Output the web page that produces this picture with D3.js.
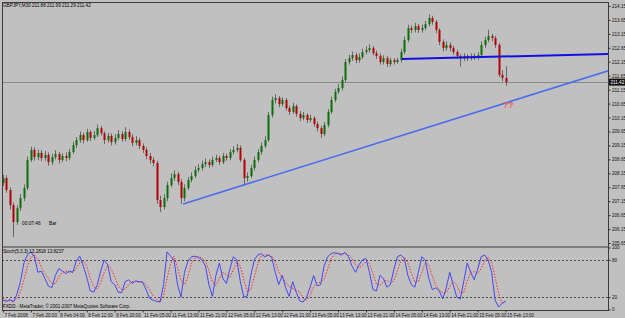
<!DOCTYPE html>
<html><head><meta charset="utf-8">
<script src="https://cdn.jsdelivr.net/npm/d3@7"></script>
<style>html,body{margin:0;padding:0;background:#c0c0c0;overflow:hidden}svg{display:block}text{font-family:"Liberation Sans",Arial,sans-serif}</style>
</head><body>
<svg id="c" width="625" height="318"></svg>
<script>
const openP=[207.80,207.98,207.55,207.01,206.40,206.90,207.26,207.62,208.63,208.99,
208.73,208.88,208.70,208.81,208.55,208.73,208.84,208.63,208.77,208.70,
208.91,209.16,209.34,209.52,209.34,209.63,209.42,209.52,209.77,209.59,
209.34,209.49,209.27,209.42,209.56,209.38,209.63,209.45,209.24,209.34,
209.13,208.99,208.77,208.63,208.52,207.19,206.94,207.26,207.73,207.98,
208.12,207.84,207.26,207.62,207.91,208.05,208.27,208.34,208.48,208.55,
208.45,208.63,208.70,208.55,208.77,208.70,208.91,208.99,209.06,208.63,
207.98,208.05,208.34,208.63,208.91,209.13,209.34,210.24,210.78,210.85,
210.63,210.78,210.49,210.35,210.56,210.28,210.13,210.24,210.06,210.13,
209.92,209.77,209.56,209.88,210.35,210.78,211.07,211.21,211.50,212.14,
212.28,212.39,212.21,212.32,212.50,212.57,212.64,212.46,212.36,212.14,
212.28,212.07,212.21,212.14,212.21,212.50,212.93,213.36,213.29,213.43,
213.29,213.36,213.50,213.72,213.58,213.29,212.86,212.64,212.75,212.64,
212.50,212.36,212.28,212.36,212.28,212.36,212.32,212.39,212.75,212.93,
213.07,213.00,212.75,211.68,211.57];
const closeP=[207.98,207.55,207.01,206.40,206.90,207.26,207.62,208.63,208.99,208.73,
208.88,208.70,208.81,208.55,208.73,208.84,208.63,208.77,208.70,208.91,
209.16,209.34,209.52,209.34,209.63,209.42,209.52,209.77,209.59,209.34,
209.49,209.27,209.42,209.56,209.38,209.63,209.45,209.24,209.34,209.13,
208.99,208.77,208.63,208.52,207.19,206.94,207.26,207.73,207.98,208.12,
207.84,207.26,207.62,207.91,208.05,208.27,208.34,208.48,208.55,208.45,
208.63,208.70,208.55,208.77,208.70,208.91,208.99,209.06,208.63,207.98,
208.05,208.34,208.63,208.91,209.13,209.34,210.24,210.78,210.85,210.63,
210.78,210.49,210.35,210.56,210.28,210.13,210.24,210.06,210.13,209.92,
209.77,209.56,209.88,210.35,210.78,211.07,211.21,211.50,212.14,212.28,
212.39,212.21,212.32,212.50,212.57,212.64,212.46,212.36,212.14,212.28,
212.07,212.21,212.14,212.21,212.50,212.93,213.36,213.29,213.43,213.29,
213.36,213.50,213.72,213.58,213.29,212.86,212.64,212.75,212.64,212.50,
212.36,212.28,212.36,212.28,212.36,212.32,212.39,212.75,212.93,213.07,
213.00,212.75,211.68,211.57,211.42];
const highP=[208.10,208.08,207.65,207.10,207.00,207.40,207.75,208.75,209.10,209.08,
209.00,208.98,208.95,208.90,208.85,208.98,208.92,208.88,208.90,209.02,
209.28,209.45,209.65,209.60,209.75,209.70,209.66,209.90,209.85,209.65,
209.60,209.58,209.55,209.70,209.66,209.80,209.72,209.55,209.48,209.42,
209.22,209.08,208.88,208.72,208.60,207.35,207.40,207.85,208.15,208.25,
208.20,207.95,207.75,208.02,208.18,208.40,208.48,208.60,208.68,208.65,
208.75,208.82,208.78,208.88,208.85,209.02,209.12,209.20,209.15,208.70,
208.18,208.45,208.75,209.02,209.25,209.48,210.35,210.90,210.98,210.92,
210.88,210.85,210.58,210.68,210.62,210.38,210.35,210.30,210.25,210.20,
210.00,209.85,209.98,210.45,210.90,211.18,211.35,211.62,212.25,212.40,
212.52,212.48,212.45,212.62,212.70,212.78,212.72,212.55,212.45,212.38,
212.35,212.30,212.28,212.30,212.62,213.05,213.48,213.45,213.55,213.50,
213.48,213.62,213.85,213.80,213.65,213.35,212.95,212.88,212.85,212.72,
212.58,212.42,212.45,212.42,212.45,212.45,212.50,212.88,213.05,213.30,
213.15,213.08,212.82,211.85,211.99];
const lowP=[207.70,207.45,206.85,205.86,206.30,206.80,207.15,207.55,208.55,208.60,
208.62,208.58,208.60,208.42,208.45,208.65,208.50,208.55,208.58,208.62,
208.85,209.05,209.25,209.22,209.28,209.30,209.35,209.45,209.50,209.20,
209.25,209.15,209.18,209.35,209.28,209.30,209.35,209.12,209.15,209.02,
208.88,208.65,208.50,208.40,207.05,206.76,206.85,207.15,207.65,207.88,
207.72,207.05,207.15,207.55,207.82,207.98,208.18,208.25,208.38,208.35,
208.38,208.55,208.45,208.48,208.60,208.62,208.82,208.90,208.55,207.70,
207.85,207.98,208.25,208.55,208.82,209.05,209.28,210.15,210.65,210.52,
210.55,210.40,210.25,210.28,210.18,210.02,210.05,209.95,209.98,209.82,
209.65,209.42,209.48,209.80,210.28,210.70,211.00,211.12,211.42,212.05,
212.18,212.10,212.12,212.25,212.42,212.48,212.38,212.25,212.05,212.05,
211.96,211.98,212.05,212.08,212.12,212.42,212.85,213.18,213.20,213.18,
213.20,213.28,213.42,213.48,213.18,212.75,212.52,212.55,212.52,212.40,
212.25,211.98,212.18,212.18,212.20,212.22,212.22,212.30,212.65,212.85,
212.88,212.65,211.60,211.45,211.29];
const stochK=[15,13,16,12,25,45,75,88,93,85,
60,62,50,38,35,55,66,62,58,62,
60,78,86,70,52,30,28,40,62,80,
72,45,40,28,27,45,48,42,46,45,
44,32,18,15,13,12,40,93,86,80,
40,20,60,78,85,86,84,80,70,40,
21,55,75,50,42,65,85,80,45,20,
22,55,80,88,90,85,88,84,60,40,
55,35,21,45,28,14,12,20,36,55,
38,40,70,85,90,92,90,88,92,85,
70,60,72,80,82,60,32,30,55,50,
36,40,65,85,88,82,55,40,36,60,
85,80,50,32,35,30,17,35,60,40,
20,17,45,75,60,48,65,85,88,80,
60,15,4,10,13.28];
const stochD=[18,15,14,14,18,28,48,70,85,88,
80,68,58,50,42,42,52,60,62,60,
60,66,75,78,70,50,37,33,44,60,
71,66,52,38,32,33,40,45,45,44,
45,40,32,22,16,13,22,50,73,86,
68,47,40,53,74,83,85,83,78,63,
44,39,50,60,56,52,64,77,70,48,
29,32,52,74,86,88,88,86,77,61,
52,44,37,34,31,29,18,15,23,37,
43,44,49,65,82,89,91,90,90,88,
82,72,67,71,78,74,58,41,39,45,
47,42,47,63,79,85,75,59,44,45,
60,75,72,54,39,32,27,27,37,45,
40,26,27,46,60,61,58,66,79,84,
76,52,26,10,13.82];
const priceTicks=[214.15,213.65,213.15,212.65,212.15,211.65,211.15,210.65,210.15,209.65,209.15,208.65,208.15,207.65,207.15,206.65,206.15,205.65];
const timeTickIdx=[0,8,16,24,32,40,48,56,64,72,80,88,96,104,112,120,128,136,144];
const timeLabels=["7 Feb 2008","7 Feb 20:00","8 Feb 04:00","8 Feb 12:00","8 Feb 20:00","11 Feb 05:00","11 Feb 13:00","11 Feb 21:00","12 Feb 05:00","12 Feb 13:00","12 Feb 21:00","13 Feb 05:00","13 Feb 13:00","13 Feb 21:00","14 Feb 05:00","14 Feb 13:00","14 Feb 21:00","15 Feb 05:00","15 Feb 13:00"];
const stochLevels=[80,20];
const stochTicks=[100,80,20,0];
const resistLine=[{i:114.3,p:212.25},{i:174,p:212.43}];
const supportLine=[{i:51.6,p:207.05},{i:174,p:211.85}];
const lastPrice=211.42;

const svg=d3.select("#c");
const L=2,R=608,T=2,SEP=246.5,B=310;
svg.append("rect").attr("width",625).attr("height",318).attr("fill","#c0c0c0");

const x=d3.scaleLinear().domain([0,144]).range([3,505.6]);
const y=d3.scaleLinear().domain([205.65,214.15]).range([243,6]);
const ys=d3.scaleLinear().domain([0,100]).range([309.5,247.5]);

const defs=svg.append("defs");
defs.append("clipPath").attr("id","mainClip").append("rect").attr("x",L).attr("y",T).attr("width",R-L).attr("height",SEP-T);
defs.append("clipPath").attr("id","subClip").append("rect").attr("x",L).attr("y",SEP).attr("width",R-L).attr("height",B-SEP);

const main=svg.append("g").attr("clip-path","url(#mainClip)");
main.append("line").attr("x1",L).attr("x2",R).attr("y1",Math.round(y(lastPrice))+0.5).attr("y2",Math.round(y(lastPrice))+0.5).attr("stroke","#8a8a8a").attr("stroke-width",1);

const idx=d3.range(closeP.length);
const px=i=>Math.round(x(i))+0.5;
main.append("g").selectAll("line").data(idx).join("line")
 .attr("x1",px).attr("x2",px).attr("y1",i=>y(highP[i])).attr("y2",i=>y(lowP[i]))
 .attr("stroke","#666").attr("stroke-width",1);
main.append("g").selectAll("rect").data(idx).join("rect")
 .attr("x",i=>Math.round(x(i))-0.5).attr("width",2)
 .attr("y",i=>y(Math.max(openP[i],closeP[i])))
 .attr("height",i=>Math.max(1,Math.abs(y(openP[i])-y(closeP[i]))))
 .attr("fill",i=>closeP[i]>=openP[i]?"#0a6e0a":"#b40000");

const ln=d3.line().x(d=>x(d.i)).y(d=>y(d.p));
main.append("path").attr("d",ln(supportLine)).attr("stroke","#4a6cf0").attr("stroke-width",1.6).attr("fill","none");
main.append("path").attr("d",ln(resistLine)).attr("stroke","#1010e0").attr("stroke-width",2).attr("fill","none");

main.append("text").attr("x",3).attr("y",7).attr("font-size",4.6).attr("fill","#000").text("GBPJPY,M30  211.88 211.99 211.29 211.42");
main.append("text").attr("x",22).attr("y",225).attr("font-size",4.8).attr("fill","#000").text("00:07:46");
main.append("text").attr("x",49).attr("y",225).attr("font-size",4.8).attr("fill","#000").text("Bar");
main.append("text").attr("x",503).attr("y",108).attr("font-size",8.5).attr("font-weight","bold").attr("fill","#f05a4a").text("??");

const sub=svg.append("g").attr("clip-path","url(#subClip)");
sub.selectAll("line.lv").data(stochLevels).join("line").attr("class","lv")
 .attr("x1",L).attr("x2",R).attr("y1",d=>Math.round(ys(d))+0.5).attr("y2",d=>Math.round(ys(d))+0.5)
 .attr("stroke","#4a4a4a").attr("stroke-dasharray","2,2").attr("stroke-width",1);
const sl=arr=>d3.line().x((d,i)=>x(i)).y(d=>ys(d))(arr);
sub.append("path").attr("d",sl(stochD)).attr("stroke","#ff2a2a").attr("stroke-width",1).attr("stroke-dasharray","1.5,1.5").attr("fill","none");
sub.append("path").attr("d",sl(stochK)).attr("stroke","#4646f0").attr("stroke-width",1).attr("fill","none");
sub.append("text").attr("x",3).attr("y",253).attr("font-size",4.6).attr("fill","#000").text("Stoch(5,3,3) 13.2818 13.8237");
sub.append("text").attr("x",3).attr("y",308).attr("font-size",4.6).attr("fill","#000").text("FXDD - MetaTrader, \u00a9 2001-2007 MetaQuotes Software Corp.");

svg.append("rect").attr("x",L+0.5).attr("y",T+0.5).attr("width",R-L).attr("height",B-T).attr("fill","none").attr("stroke","#3c3c3c");
svg.append("line").attr("x1",L).attr("x2",R).attr("y1",SEP+0.5).attr("y2",SEP+0.5).attr("stroke","#3c3c3c");

const pa=svg.append("g").attr("transform",`translate(${R+0.5},0)`).call(d3.axisRight(y).tickValues(priceTicks).tickFormat(d3.format(".2f")).tickSize(2).tickPadding(1.5));
pa.select(".domain").remove();
pa.selectAll("line").attr("stroke","#333");
pa.selectAll("text").attr("font-size",4.6).attr("fill","#111").attr("font-family","Liberation Sans, Arial, sans-serif");
const cy=y(lastPrice);
svg.append("rect").attr("x",R+1).attr("y",cy-3.5).attr("width",16).attr("height",7).attr("fill","#111");
svg.append("text").attr("x",R+2.5).attr("y",cy+1.8).attr("font-size",4.6).attr("fill","#fff").text(d3.format(".2f")(lastPrice));

const sa=svg.append("g").attr("transform",`translate(${R+0.5},0)`).call(d3.axisRight(ys).tickValues(stochTicks).tickFormat(d3.format("d")).tickSize(2).tickPadding(1.5));
sa.select(".domain").remove();
sa.selectAll("line").attr("stroke","#333");
sa.selectAll("text").attr("font-size",4.6).attr("fill","#111").attr("font-family","Liberation Sans, Arial, sans-serif");

const ta=svg.append("g").attr("transform",`translate(0,${B+0.5})`).call(d3.axisBottom(x).tickValues(timeTickIdx).tickFormat((d,k)=>timeLabels[k]).tickSize(2).tickPadding(1));
ta.select(".domain").remove();
ta.selectAll("line").attr("stroke","#333");
ta.selectAll("text").attr("font-size",4.6).attr("fill","#111").attr("text-anchor","start").attr("dx",1).attr("font-family","Liberation Sans, Arial, sans-serif");
</script>
</body></html>
